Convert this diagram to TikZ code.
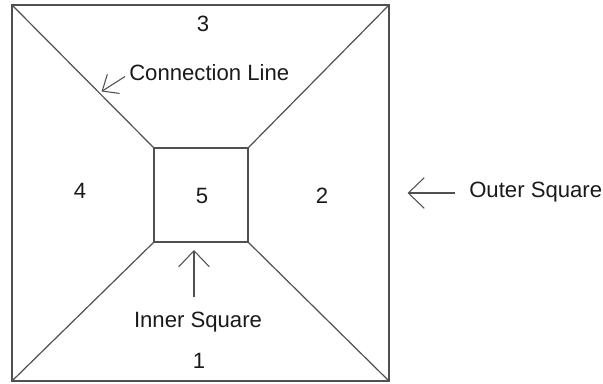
\documentclass[tikz,border=0pt]{standalone}
\usepackage{fontspec}
\setmainfont{Liberation Sans}
\usetikzlibrary{arrows.meta}
\definecolor{edge}{HTML}{505050}
\definecolor{ink}{HTML}{1A1A1A}
\tikzset{
  sq/.style={draw=edge, line width=0.9pt},
  conn/.style={draw=edge, line width=0.9pt},
  lbl/.style={text=ink, font=\fontsize{16.6pt}{19pt}\selectfont, inner sep=0pt},
  pointer/.style={draw=edge, line width=0.8pt, -{Straight Barb[length=12pt, width=23pt, line width=0.8pt]}},
  pointersm/.style={draw=edge, line width=0.8pt, -{Straight Barb[length=10pt, width=17pt, line width=0.8pt]}}
}
\begin{document}
\begin{tikzpicture}[x=0.75pt, y=-0.75pt]
  \useasboundingbox (0,0) rectangle (603,383);
  % outer square corners
  \coordinate (otl) at (12,5);
  \coordinate (otr) at (389,5);
  \coordinate (obr) at (389,381);
  \coordinate (obl) at (12,381);
  % inner square corners
  \coordinate (itl) at (154,148);
  \coordinate (itr) at (248,148);
  \coordinate (ibr) at (248,242);
  \coordinate (ibl) at (154,242);
  \draw[sq] (otl) -- (otr) -- (obr) -- (obl) -- cycle;
  \draw[sq] (itl) -- (itr) -- (ibr) -- (ibl) -- cycle;
  % connection lines between corners
  \draw[conn] (otl) -- (itl);
  \draw[conn] (otr) -- (itr);
  \draw[conn] (obr) -- (ibr);
  \draw[conn] (obl) -- (ibl);
  % region numbers
  \node[lbl] (n3) at (203,24) {3};
  \node[lbl] (n4) at (80,191) {4};
  \node[lbl] (n5) at (202,196) {5};
  \node[lbl] (n2) at (322,196) {2};
  \node[lbl] (n1) at (199,361) {1};
  % annotations
  \node[lbl, anchor=west] (tconn) at (129,73) {Connection Line};
  \node[lbl] (tinner) at (198,322) {Inner Square};
  \node[lbl, anchor=west] (touter) at (469,192) {Outer Square};
  \coordinate (aconn) at (101.5,91.5);
  \coordinate (ainner) at (194,250);
  \coordinate (aouter) at (407.5,193);
  \coordinate (sconn) at (125,76.5);
  \coordinate (sinner) at (194,297);
  \coordinate (souter) at (455,193);
  \draw[pointersm] (sconn) -- (aconn);
  \draw[pointer] (sinner) -- (ainner);
  \draw[pointer] (souter) -- (aouter);
\end{tikzpicture}
\end{document}
